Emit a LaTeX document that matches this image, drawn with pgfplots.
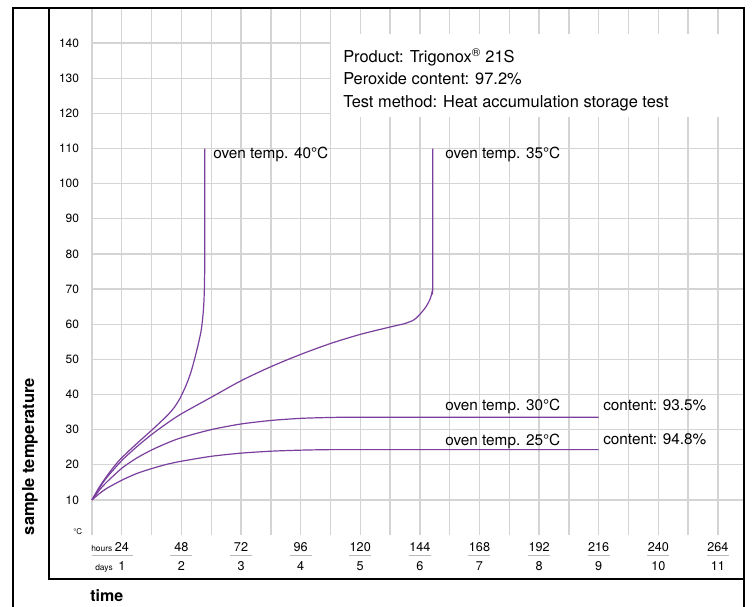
\documentclass[border=0pt]{standalone}
\usepackage{pgfplots}
\pgfplotsset{compat=1.18}
\usepackage{fontspec}
\setmainfont{TeX Gyre Heros}
\definecolor{curve}{RGB}{122,62,157}
\definecolor{gridc}{RGB}{212,212,212}
\newcommand{\fs}[1]{\fontsize{#1}{1.2\dimexpr#1pt\relax}\selectfont}
\pgfplotsset{curveline/.style={draw=curve, no marks, line width=0.9pt, smooth, tension=0.45}}

\begin{document}
\begin{tikzpicture}
\useasboundingbox (0,0) rectangle (564pt,-454.5pt);
\begin{axis}[
  at={(69pt,-401.25pt)}, anchor=south west,
  scale only axis, width=489pt, height=395.25pt,
  xmin=12, xmax=274.5, ymin=0, ymax=150,
  axis line style={draw=none},
  major tick length=0pt, minor tick length=0pt,
  xtick={24,48,...,264},
  minor xtick={12,36,...,252},
  ytick={10,20,...,140},
  xmajorgrids, xminorgrids, ymajorgrids,
  major grid style={draw=gridc, line width=1pt},
  minor grid style={draw=gridc, line width=1pt},
  xticklabels={{24\\[2.85pt]1},{48\\[2.85pt]2},{72\\[2.85pt]3},{96\\[2.85pt]4},
    {120\\[2.85pt]5},{144\\[2.85pt]6},{168\\[2.85pt]7},{192\\[2.85pt]8},
    {216\\[2.85pt]9},{240\\[2.85pt]10},{264\\[2.85pt]11}},
  xticklabel style={font=\fontsize{9.5}{11.4}\selectfont, align=center, anchor=north, inner sep=0pt, yshift=-5.5pt},
  yticklabel style={font=\fontsize{9}{11}\selectfont, anchor=east, inner sep=0pt, xshift=-9.5pt},
  /pgf/number format/assume math mode=true,
  clip=false,
]

% oven temp. 40 C
\addplot[curveline] coordinates {
  (12,10) (15,13.7) (18,16.8) (21,19.6) (24,22.0) (30,26.0) (36,29.8) (42,33.8)
  (45,36.2) (47.5,39.0) (50,42.8) (51.8,46.3) (53.2,49.8) (54.3,52.9) (55.2,55.6)
  (55.9,58.0) (56.4,60.6) (56.8,63.6) (57.1,67) (57.3,72) (57.4,80) (57.4,110)
};
% oven temp. 35 C
\addplot[curveline] coordinates {
  (12,10) (15,13.4) (18,16.4) (24,21.2) (30,25.1) (36,28.6) (42,31.7) (48,34.5)
  (60,39.2) (72,43.9) (84,47.9) (96,51.4) (108,54.5) (120,57.1) (132,59.2)
  (138,60.2) (141.5,61.2) (144,62.8) (146.5,65) (148.2,67.3) (149,69.5)
  (149.2,72.5) (149.2,110)
};
% oven temp. 30 C
\addplot[curveline] coordinates {
  (12,10) (15,12.8) (18,15.1) (24,19.0) (30,21.9) (36,24.2) (42,26.1) (48,27.7)
  (60,30.0) (72,31.6) (84,32.6) (96,33.2) (108,33.45) (120,33.5) (216,33.5)
};
% oven temp. 25 C
\addplot[curveline] coordinates {
  (12,10) (15,11.8) (18,13.3) (24,15.6) (30,17.5) (36,18.9) (42,20.1) (48,21.0)
  (60,22.4) (72,23.3) (84,23.85) (96,24.15) (108,24.3) (120,24.3) (216,24.3)
};
\end{axis}

\begin{scope}[x=0.75pt,y=-0.75pt]
  % info box
  \fill[white] (331,34) rectangle (744,117.3);
  \begin{scope}[every node/.style={anchor=base west, inner sep=0pt, font=\fs{12.3}}]
    \node at (343,62.3) {Product: Trigonox\textsuperscript{®} 21S};
    \node at (343,85) {Peroxide content: 97.2\%};
    \node at (343,107.3) {Test method: Heat accumulation storage test};
  \end{scope}
  \begin{scope}[every node/.style={anchor=base west, inner sep=0pt, font=\fs{11.5}}]
    \node at (213,158.3) {oven temp. 40°C};
    \node at (445,158.3) {oven temp. 35°C};
    \node at (445,410.7) {oven temp. 30°C};
    \node at (603,410.7) {content: 93.5\%};
    \node at (445,445) {oven temp. 25°C};
    \node at (603,444) {content: 94.8\%};
  \end{scope}
  % hours / days rows
  \node[anchor=base west, inner sep=0pt, font=\fs{6.3}] at (91,551) {hours};
  \node[anchor=base west, inner sep=0pt, font=\fs{6.3}] at (95,570.7) {days};
  \node[anchor=base west, inner sep=0pt, font=\fs{6}] at (73,534.3) {°C};
  \draw[gray!55, line width=0.6pt] (92,555.5) -- (112.3,555.5);
  \foreach \i in {0,...,10}
    \draw[gray!55, line width=0.6pt] ({110.8+59.6*\i},555.5) -- ++(22,0);
  \node[anchor=base west, inner sep=0pt, font=\bfseries\fs{12}] at (90,601) {time};
  \node[anchor=base, rotate=90, inner sep=0pt, font=\bfseries\fs{12.4}] at (34,456.5) {sample temperature};
  % frames
  \draw[black, line width=0.8pt] (13,607) -- (13,8) -- (744,8) -- (744,607);
  \draw[black, line width=0.8pt] (49,8) -- (49,579) -- (744,579);
\end{scope}
\end{tikzpicture}
\end{document}
